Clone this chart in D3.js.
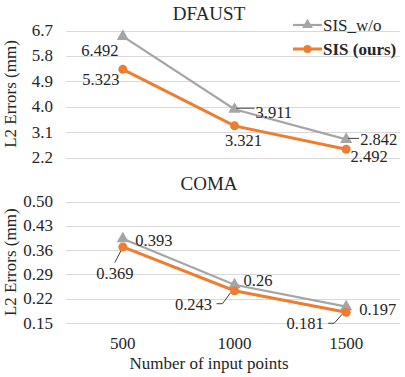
<!DOCTYPE html>
<html>
<head>
<meta charset="utf-8">
<style>
    body { margin: 0; background: #fff; }
    svg { font-family: "Liberation Serif", "Times New Roman", serif; }
</style>
</head>
<body>
<svg width="405" height="377"></svg>
<script src="https://d3js.org/d3.v7.min.js"></script>
<script>
    var points = ["500", "1000", "1500"];
    var dfaustWo = [6.492, 3.911, 2.842];
    var dfaustOurs = [5.323, 3.321, 2.492];
    var comaWo = [0.393, 0.26, 0.197];
    var comaOurs = [0.369, 0.243, 0.181];
    var dfaustTicks = ["2.2", "3.1", "4.0", "4.9", "5.8", "6.7"];
    var comaTicks = ["0.15", "0.22", "0.29", "0.36", "0.43", "0.50"];

    var grey = "#a5a5a5", orange = "#ed7d31", ink = "#262626";
    var svg = d3.select("svg");

    var x = d3.scalePoint().domain(points).range([67, 402]).padding(0.5);

    // label placement per point: [dx, baseline dy, anchor, leader type]
    var panels = [
        { title: "DFAUST", titleY: 20, top: 30.5, bottom: 157.5, ticks: dfaustTicks,
          wo: dfaustWo, ours: dfaustOurs, fmt: d3.format(".3f"),
          woLab: [[-23, 19.5, "middle", 0], [21, 8.5, "start", 1], [14, 5.5, "start", 1]],
          oursLab: [[-22, 15.8, "middle", 0], [9, 20.5, "middle", 0], [23, 12.5, "middle", 0]] },
        { title: "COMA", titleY: 189.5, top: 201.5, bottom: 323, ticks: comaTicks,
          wo: comaWo, ours: comaOurs, fmt: function(v) { return String(v); },
          woLab: [[12.5, 7, "start", 0], [9, 1.5, "start", 0], [13, 8, "start", 0]],
          oursLab: [[-8, 32.5, "middle", 2], [-41, 19, "middle", 3], [-41, 17, "middle", 3]] }
    ];

    panels.forEach(function(p) {
        var vals = p.ticks.map(Number);
        var y = d3.scaleLinear().domain([vals[0], vals[vals.length - 1]]).range([p.bottom, p.top]);
        var g = svg.append("g");

        g.selectAll("line.grid").data(p.ticks).enter().append("line")
            .attr("x1", 66).attr("x2", 400)
            .attr("y1", function(d) { return Math.round(y(+d)) + 0.5; })
            .attr("y2", function(d) { return Math.round(y(+d)) + 0.5; })
            .attr("stroke", "#d9d9d9").attr("stroke-width", 1);

        g.selectAll("text.tick").data(p.ticks).enter().append("text")
            .attr("x", 53).attr("y", function(d) { return y(+d) + 5.5; })
            .attr("text-anchor", "end").attr("font-size", 17).attr("fill", ink)
            .text(function(d) { return d; });

        g.append("text").attr("x", 209).attr("y", p.titleY)
            .attr("text-anchor", "middle").attr("font-size", 19).attr("fill", ink)
            .text(p.title);

        g.append("text")
            .attr("transform", "translate(16," + ((p.top + p.bottom) / 2) + ") rotate(-90)")
            .attr("text-anchor", "middle").attr("font-size", 17).attr("fill", ink)
            .text("L2 Errors (mm)");

        var line = d3.line().x(function(d, i) { return x(points[i]); }).y(function(d) { return y(d); });

        g.append("path").datum(p.wo).attr("d", line)
            .attr("fill", "none").attr("stroke", grey).attr("stroke-width", 2.2);
        g.selectAll("path.tri").data(p.wo).enter().append("path")
            .attr("d", d3.symbol().type(d3.symbolTriangle).size(64))
            .attr("transform", function(d, i) { return "translate(" + x(points[i]) + "," + y(d) + ")"; })
            .attr("fill", grey);

        g.append("path").datum(p.ours).attr("d", line)
            .attr("fill", "none").attr("stroke", orange).attr("stroke-width", 3);
        g.selectAll("circle").data(p.ours).enter().append("circle")
            .attr("cx", function(d, i) { return x(points[i]); })
            .attr("cy", function(d) { return y(d); })
            .attr("r", 4.5).attr("fill", orange);

        function labels(series, cfg) {
            series.forEach(function(v, i) {
                var px = x(points[i]), py = y(v), c = cfg[i];
                var tx = px + c[0], ty = py + c[1];
                if (c[3] === 1) {
                    g.append("line").attr("x1", px + 2).attr("x2", tx - 1)
                        .attr("y1", py - 1).attr("y2", py - 1).attr("stroke", "#404040");
                } else if (c[3] === 2) {
                    g.append("line").attr("x1", px - 8).attr("y1", ty - 17)
                        .attr("x2", px - 2).attr("y2", py + 4).attr("stroke", "#404040");
                } else if (c[3] === 3) {
                    g.append("line").attr("x1", tx + 23).attr("y1", ty - 6)
                        .attr("x2", tx + 29).attr("y2", ty - 6).attr("stroke", "#404040");
                    g.append("line").attr("x1", tx + 29).attr("y1", ty - 6)
                        .attr("x2", px - 4).attr("y2", py + 2).attr("stroke", "#404040");
                }
                g.append("text").attr("x", tx).attr("y", ty)
                    .attr("text-anchor", c[2]).attr("font-size", 16.5).attr("fill", ink)
                    .text(p.fmt(v));
            });
        }
        labels(p.wo, p.woLab);
        labels(p.ours, p.oursLab);
    });

    // x axis labels
    svg.selectAll("text.xl").data(points).enter().append("text")
        .attr("x", function(d) { return x(d); }).attr("y", 349)
        .attr("text-anchor", "middle").attr("font-size", 17).attr("fill", ink)
        .text(function(d) { return d; });
    svg.append("text").attr("x", 209).attr("y", 369)
        .attr("text-anchor", "middle").attr("font-size", 17).attr("fill", ink)
        .text("Number of input points");

    // legend
    var lg = svg.append("g");
    lg.append("line").attr("x1", 293).attr("x2", 322).attr("y1", 25).attr("y2", 25)
        .attr("stroke", grey).attr("stroke-width", 2.2);
    lg.append("path").attr("d", d3.symbol().type(d3.symbolTriangle).size(50))
        .attr("transform", "translate(307.5,25)").attr("fill", grey);
    lg.append("text").attr("x", 323).attr("y", 31).attr("font-size", 17).attr("fill", ink).text("SIS_w/o");
    lg.append("line").attr("x1", 293).attr("x2", 322).attr("y1", 49).attr("y2", 49)
        .attr("stroke", orange).attr("stroke-width", 3);
    lg.append("circle").attr("cx", 307.5).attr("cy", 49).attr("r", 4).attr("fill", orange);
    lg.append("text").attr("x", 323).attr("y", 55).attr("font-size", 17).attr("font-weight", "bold")
        .attr("fill", ink).text("SIS (ours)");
</script>
</body>
</html>
